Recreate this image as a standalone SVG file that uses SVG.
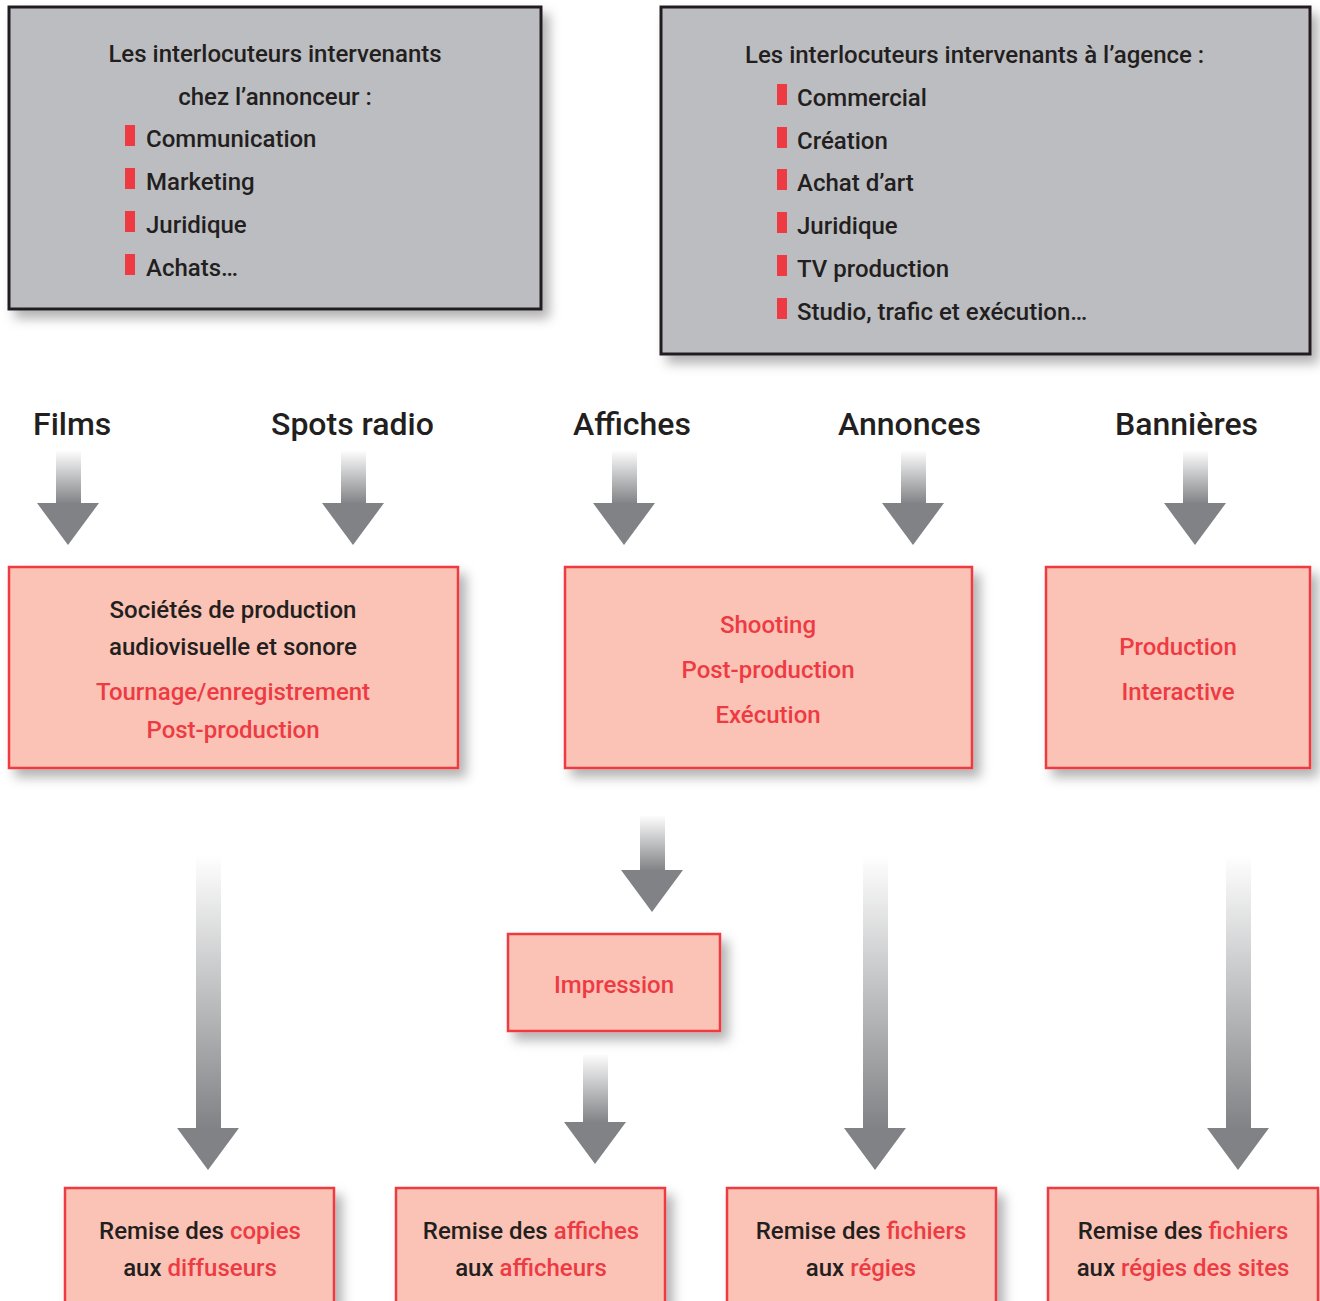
<svg xmlns="http://www.w3.org/2000/svg" width="1320" height="1301" viewBox="0 0 1320 1301">
<defs>
<filter id="sh" x="-10%" y="-10%" width="130%" height="140%">
<feDropShadow dx="7" dy="8" stdDeviation="6" flood-color="#000" flood-opacity="0.3"/>
</filter>
<linearGradient id="g" x1="0" y1="0" x2="0" y2="1">
<stop offset="0" stop-color="#ffffff"/>
<stop offset="1" stop-color="#808285"/>
</linearGradient>
<style>
.gray{fill:#bcbdc0;stroke:#231f20;stroke-width:3}
.pink{fill:#fac3b5;stroke:#ee3a43;stroke-width:2.5}
text{font-family:"Roboto","Liberation Sans",sans-serif;fill:#231f20;font-weight:500}
.t{font-size:24px}
.c{text-anchor:middle}
.r{fill:#ee3a43}
.lab{font-size:32px}
.bul{fill:#ee3a43}
.head{fill:#808285}
.shaft{fill:url(#g)}
</style>
</defs>
<rect width="1320" height="1301" fill="#ffffff"/>

<g id="annonceur">
<rect class="gray" x="9" y="7" width="532" height="302" filter="url(#sh)"/>
<text class="t c" x="275" y="62">Les interlocuteurs intervenants</text>
<text class="t c" x="275" y="105">chez l’annonceur :</text>
<rect class="bul" x="125" y="125" width="10" height="21"/>
<rect class="bul" x="125" y="168" width="10" height="21"/>
<rect class="bul" x="125" y="211" width="10" height="21"/>
<rect class="bul" x="125" y="254" width="10" height="21"/>
<text class="t" x="146" y="147">Communication</text>
<text class="t" x="146" y="190">Marketing</text>
<text class="t" x="146" y="233">Juridique</text>
<text class="t" x="146" y="276">Achats…</text>
</g>

<g id="agence">
<rect class="gray" x="661" y="7" width="649" height="347" filter="url(#sh)"/>
<text class="t" x="745" y="63">Les interlocuteurs intervenants à l’agence :</text>
<rect class="bul" x="777" y="84" width="10" height="21"/>
<rect class="bul" x="777" y="127" width="10" height="21"/>
<rect class="bul" x="777" y="169" width="10" height="21"/>
<rect class="bul" x="777" y="212" width="10" height="21"/>
<rect class="bul" x="777" y="255" width="10" height="21"/>
<rect class="bul" x="777" y="298" width="10" height="21"/>
<text class="t" x="797" y="106">Commercial</text>
<text class="t" x="797" y="149">Création</text>
<text class="t" x="797" y="191">Achat d’art</text>
<text class="t" x="797" y="234">Juridique</text>
<text class="t" x="797" y="277">TV production</text>
<text class="t" x="797" y="320">Studio, trafic et exécution…</text>
</g>

<g id="labels">
<text class="lab" x="33" y="435">Films</text>
<text class="lab" x="271" y="435">Spots radio</text>
<text class="lab" x="573" y="435">Affiches</text>
<text class="lab" x="838" y="435">Annonces</text>
<text class="lab" x="1115" y="435">Bannières</text>
</g>

<g id="connectors">
<rect class="shaft" x="56" y="450" width="25" height="54"/><polygon class="head" points="37,503 99,503 68,545"/>
<rect class="shaft" x="341" y="450" width="25" height="54"/><polygon class="head" points="322,503 384,503 353,545"/>
<rect class="shaft" x="612" y="450" width="25" height="54"/><polygon class="head" points="593,503 655,503 624,545"/>
<rect class="shaft" x="901" y="450" width="25" height="54"/><polygon class="head" points="882,503 944,503 913,545"/>
<rect class="shaft" x="1183" y="450" width="25" height="54"/><polygon class="head" points="1164,503 1226,503 1195,545"/>

<rect class="shaft" x="196" y="855" width="25" height="274"/><polygon class="head" points="177,1128 239,1128 208,1170"/>
<rect class="shaft" x="640" y="815" width="25" height="56"/><polygon class="head" points="621,870 683,870 652,912"/>
<rect class="shaft" x="583" y="1053" width="25" height="70"/><polygon class="head" points="564,1122 626,1122 595,1164"/>
<rect class="shaft" x="863" y="855" width="25" height="274"/><polygon class="head" points="844,1128 906,1128 875,1170"/>
<rect class="shaft" x="1226" y="855" width="25" height="274"/><polygon class="head" points="1207,1128 1269,1128 1238,1170"/>
</g>

<g id="production-av">
<rect class="pink" x="9" y="567" width="449" height="201" filter="url(#sh)"/>
<text class="t c" x="233" y="618">Sociétés de production</text>
<text class="t c" x="233" y="655">audiovisuelle et sonore</text>
<text class="t c r" x="233" y="700">Tournage/enregistrement</text>
<text class="t c r" x="233" y="738">Post-production</text>
</g>

<g id="shooting">
<rect class="pink" x="565" y="567" width="407" height="201" filter="url(#sh)"/>
<text class="t c r" x="768" y="633">Shooting</text>
<text class="t c r" x="768" y="678">Post-production</text>
<text class="t c r" x="768" y="723">Exécution</text>
</g>

<g id="interactive">
<rect class="pink" x="1046" y="567" width="264" height="201" filter="url(#sh)"/>
<text class="t c r" x="1178" y="655">Production</text>
<text class="t c r" x="1178" y="700">Interactive</text>
</g>

<g id="impression">
<rect class="pink" x="508" y="934" width="212" height="97" filter="url(#sh)"/>
<text class="t c r" x="614" y="993">Impression</text>
</g>

<g id="diffuseurs">
<rect class="pink" x="65" y="1188" width="269" height="130" filter="url(#sh)"/>
<text class="t c" x="200" y="1239">Remise des <tspan class="r">copies</tspan></text>
<text class="t c" x="200" y="1276">aux <tspan class="r">diffuseurs</tspan></text>
</g>

<g id="afficheurs">
<rect class="pink" x="396" y="1188" width="269" height="130" filter="url(#sh)"/>
<text class="t c" x="531" y="1239">Remise des <tspan class="r">affiches</tspan></text>
<text class="t c" x="531" y="1276">aux <tspan class="r">afficheurs</tspan></text>
</g>

<g id="regies">
<rect class="pink" x="727" y="1188" width="269" height="130" filter="url(#sh)"/>
<text class="t c" x="861" y="1239">Remise des <tspan class="r">fichiers</tspan></text>
<text class="t c" x="861" y="1276">aux <tspan class="r">régies</tspan></text>
</g>

<g id="regies-sites">
<rect class="pink" x="1048" y="1188" width="270" height="130" filter="url(#sh)"/>
<text class="t c" x="1183" y="1239">Remise des <tspan class="r">fichiers</tspan></text>
<text class="t c" x="1183" y="1276">aux <tspan class="r">régies des sites</tspan></text>
</g>
</svg>
